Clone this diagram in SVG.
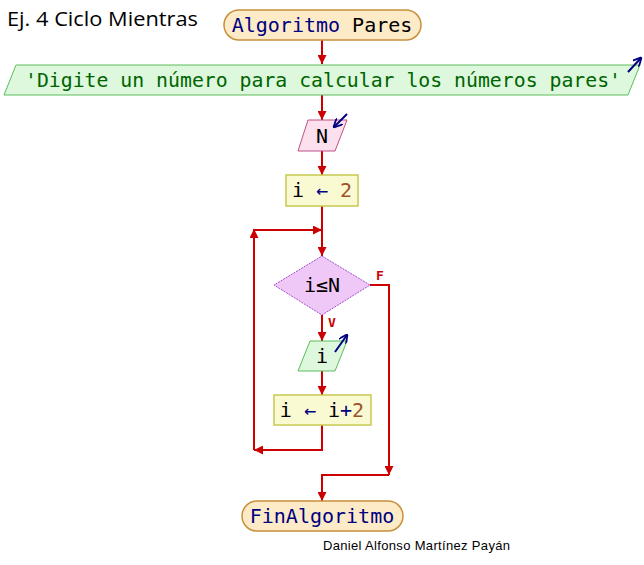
<svg xmlns="http://www.w3.org/2000/svg" width="644" height="565" viewBox="0 0 644 565">
<defs>
<marker id="ah2" viewBox="0 0 10 10" refX="10" refY="5" markerWidth="10" markerHeight="9" orient="auto" markerUnits="userSpaceOnUse">
<path d="M0,0 L10,5 L0,10 z" fill="#cc0000"/>
</marker>
<marker id="io" viewBox="0 0 10 10" refX="9" refY="5" markerWidth="9" markerHeight="9" orient="auto" markerUnits="userSpaceOnUse">
<path d="M0,0 L10,5 L0,10" fill="none" stroke="#000080" stroke-width="2"/>
</marker>
</defs>
<style>
.term{fill:#fdebc8;stroke:#c8903c;stroke-width:1.5}
.out{fill:#ddf8dd;stroke:#5cbc5c;stroke-width:1}
.inp{fill:#fce0ee;stroke:#c05088;stroke-width:1}
.asg{fill:#fafad2;stroke:#c8c850;stroke-width:1.5}
.dec{fill:#f0c8f8;stroke:#a050d0;stroke-width:1;stroke-dasharray:2 1}
.mono{font-family:"DejaVu Sans Mono","Liberation Mono",monospace;font-size:20px}
.kw{fill:#000080}
.blk{fill:#000000}
.num{fill:#a0522d}
.str{fill:#006400}
.conn{fill:none;stroke:#cc0000;stroke-width:2}
.lbl{font-family:"DejaVu Sans Mono","Liberation Mono",monospace;font-size:13px;font-weight:bold;fill:#cc0000}
.icon{fill:none;stroke:#000080;stroke-width:2}
</style>
<rect width="644" height="565" fill="#ffffff"/>
<text x="7" y="26" font-family="Open Sans, Liberation Sans, Arial, sans-serif" font-size="20" textLength="191" lengthAdjust="spacingAndGlyphs" fill="#000">Ej. 4 Ciclo Mientras</text>

<g id="connectors">
<path class="conn" d="M322,40 V64" marker-end="url(#ah2)"/>
<path class="conn" d="M322,95 V120" marker-end="url(#ah2)"/>
<path class="conn" d="M322,151 V175" marker-end="url(#ah2)"/>
<path class="conn" d="M322,206 V256" marker-end="url(#ah2)"/>
<path class="conn" d="M322,315 V341" marker-end="url(#ah2)"/>
<path class="conn" d="M322,371 V395" marker-end="url(#ah2)"/>
<path class="conn" d="M322,425 V450 H254" marker-end="url(#ah2)"/>
<path class="conn" d="M254,450 V229" marker-end="url(#ah2)"/>
<path class="conn" d="M254,230 H322" marker-end="url(#ah2)"/>
<path class="conn" d="M370,285 H389 V475" marker-end="url(#ah2)"/>
<path class="conn" d="M389,475 H322 V501" marker-end="url(#ah2)"/>
<text class="lbl" x="376" y="280">F</text>
<text class="lbl" x="328" y="327">V</text>
</g>

<g id="start">
<rect class="term" x="224" y="10" width="197" height="30" rx="15"/>
<text class="mono" x="322" y="32" text-anchor="middle"><tspan class="kw">Algoritmo</tspan><tspan class="blk"> Pares</tspan></text>
</g>

<g id="output1">
<polygon class="out" points="16,65 640,65 628,95 4,95"/>
<text class="mono str" x="25" y="87" textLength="596" lengthAdjust="spacingAndGlyphs">'Digite un número para calcular los números pares'</text>
<path class="icon" d="M628,72 L641,58" marker-end="url(#io)"/>
</g>

<g id="inputN">
<polygon class="inp" points="308,120 347,120 335,151 298,151"/>
<text class="mono blk" x="322" y="143" text-anchor="middle">N</text>
<path class="icon" d="M347,114 L334,127" marker-end="url(#io)"/>
</g>

<g id="assign1">
<rect class="asg" x="286" y="175" width="72" height="31"/>
<text class="mono" x="322" y="197" text-anchor="middle"><tspan class="blk">i</tspan><tspan class="kw"> ← </tspan><tspan class="num">2</tspan></text>
</g>

<g id="decision">
<polygon class="dec" points="322,256 370,285 322,315 274,285"/>
<text class="mono blk" x="322" y="292" text-anchor="middle">i≤N</text>
</g>

<g id="output2">
<polygon class="out" points="310,341 347,341 335,371 298,371"/>
<text class="mono blk" x="322" y="363" text-anchor="middle">i</text>
<path class="icon" d="M335,352 L347,335" marker-end="url(#io)"/>
</g>

<g id="assign2">
<rect class="asg" x="274" y="395" width="97" height="30"/>
<text class="mono" x="322" y="417" text-anchor="middle"><tspan class="blk">i</tspan><tspan class="kw"> ← </tspan><tspan class="blk">i</tspan><tspan class="kw">+</tspan><tspan class="num">2</tspan></text>
</g>

<g id="end">
<rect class="term" x="242" y="501" width="161" height="30" rx="15"/>
<text class="mono kw" x="322" y="523" text-anchor="middle">FinAlgoritmo</text>
</g>

<text x="323" y="550" font-family="Liberation Sans, Arial, sans-serif" font-size="13" textLength="187" fill="#000">Daniel Alfonso Martínez Payán</text>
</svg>
